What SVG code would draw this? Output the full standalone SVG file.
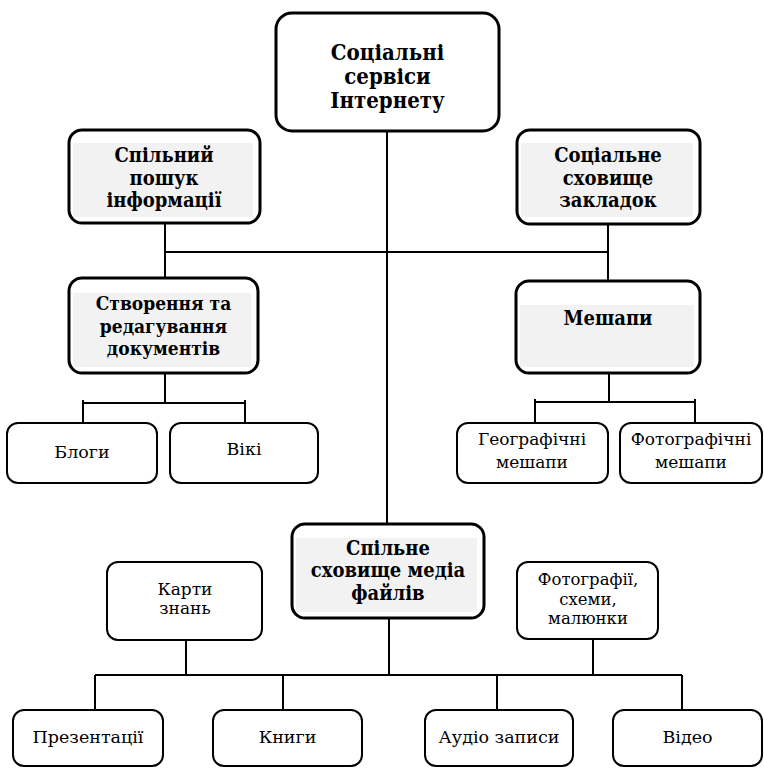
<svg xmlns="http://www.w3.org/2000/svg" width="764" height="769" viewBox="0 0 764 769">
<style>
.bold{fill:#fff;stroke:#000;stroke-width:3}
.plain{fill:#fff;stroke:#000;stroke-width:2}
.shade{fill:#f2f2f2;stroke:none}
text{text-anchor:middle;fill:#000;font-family:'DejaVu Serif','Liberation Serif',serif}
.tb{font-weight:bold;font-stretch:condensed}
.ln{fill:none;stroke:#000;stroke-width:2}
</style>
<rect width="764" height="769" fill="#fff"/>
<g id="connectors" class="ln">
<path d="M387,131 V525"/>
<path d="M165,223 V280 M165,252 H608 M608,224 V283"/>
<path d="M165,373 V403 M83,403 H245 M83,400 V424 M245,400 V424"/>
<path d="M609,373 V402 M535,402 H695 M535,399 V424 M695,399 V424"/>
<path d="M389,618 V675 M186,640 V675 M593,639 V675 M95,675 H682 M95,675 V711 M283,675 V711 M497,675 V711 M682,675 V711"/>
</g>
<g id="n-top">
<rect class="bold" x="276" y="13" width="223" height="118" rx="16"/>
<text class="tb" font-size="22"><tspan x="387.5" y="60">Соціальні</tspan><tspan x="387.5" y="84">сервіси</tspan><tspan x="387.5" y="108">Інтернету</tspan></text>
</g>
<g id="n-search">
<rect class="bold" x="69" y="130" width="191" height="93" rx="13"/>
<rect class="shade" x="73" y="143" width="180" height="74"/>
<text class="tb" font-size="20"><tspan x="164" y="162">Спільний</tspan><tspan x="164" y="185">пошук</tspan><tspan x="164" y="207">інформації</tspan></text>
</g>
<g id="n-bookmarks">
<rect class="bold" x="517" y="130" width="183" height="94" rx="13"/>
<rect class="shade" x="521" y="143" width="172" height="74"/>
<text class="tb" font-size="20"><tspan x="608" y="162">Соціальне</tspan><tspan x="608" y="185">сховище</tspan><tspan x="608" y="207">закладок</tspan></text>
</g>
<g id="n-docs">
<rect class="bold" x="69" y="278" width="189" height="95" rx="13"/>
<rect class="shade" x="73" y="293" width="178" height="74"/>
<text class="tb" font-size="19"><tspan x="163.5" y="310">Створення та</tspan><tspan x="163.5" y="332.5">редагування</tspan><tspan x="163.5" y="355">документів</tspan></text>
</g>
<g id="n-mashups">
<rect class="bold" x="516" y="281" width="184" height="92" rx="13"/>
<rect class="shade" x="520" y="305" width="174" height="62"/>
<text class="tb" font-size="20" x="608" y="325">Мешапи</text>
</g>
<g id="n-blogs">
<rect class="plain" x="7" y="423" width="150" height="60" rx="11"/>
<text font-size="17.5" x="82" y="458">Блоги</text>
</g>
<g id="n-wiki">
<rect class="plain" x="170" y="423" width="148" height="60" rx="11"/>
<text font-size="17.5" x="244" y="455">Вікі</text>
</g>
<g id="n-geo">
<rect class="plain" x="457" y="423" width="151" height="60" rx="11"/>
<text font-size="17"><tspan x="532" y="445">Географічні</tspan><tspan x="532" y="468">мешапи</tspan></text>
</g>
<g id="n-photo-mash">
<rect class="plain" x="620" y="423" width="142" height="60" rx="11"/>
<text font-size="17"><tspan x="691" y="445">Фотографічні</tspan><tspan x="691" y="468">мешапи</tspan></text>
</g>
<g id="n-media">
<rect class="bold" x="292" y="524" width="192" height="94" rx="13"/>
<rect class="shade" x="296" y="538" width="181" height="74"/>
<text class="tb" font-size="20"><tspan x="388" y="555">Спільне</tspan><tspan x="388" y="577">сховище медіа</tspan><tspan x="388" y="600">файлів</tspan></text>
</g>
<g id="n-maps">
<rect class="plain" x="107" y="562" width="155" height="78" rx="11"/>
<text font-size="17"><tspan x="185" y="595">Карти</tspan><tspan x="185" y="614">знань</tspan></text>
</g>
<g id="n-photos">
<rect class="plain" x="517" y="562" width="141" height="77" rx="11"/>
<text font-size="16.5"><tspan x="588" y="585">Фотографії,</tspan><tspan x="588" y="604.5">схеми,</tspan><tspan x="588" y="624">малюнки</tspan></text>
</g>
<g id="n-pres">
<rect class="plain" x="13" y="710" width="150" height="56" rx="11"/>
<text font-size="17.5" x="88" y="743">Презентації</text>
</g>
<g id="n-books">
<rect class="plain" x="213" y="710" width="149" height="56" rx="11"/>
<text font-size="17.5" x="287.5" y="743">Книги</text>
</g>
<g id="n-audio">
<rect class="plain" x="425" y="710" width="148" height="56" rx="11"/>
<text font-size="17.5" x="499" y="743">Аудіо записи</text>
</g>
<g id="n-video">
<rect class="plain" x="613" y="710" width="149" height="56" rx="11"/>
<text font-size="17.5" x="687.5" y="743">Відео</text>
</g>
</svg>
